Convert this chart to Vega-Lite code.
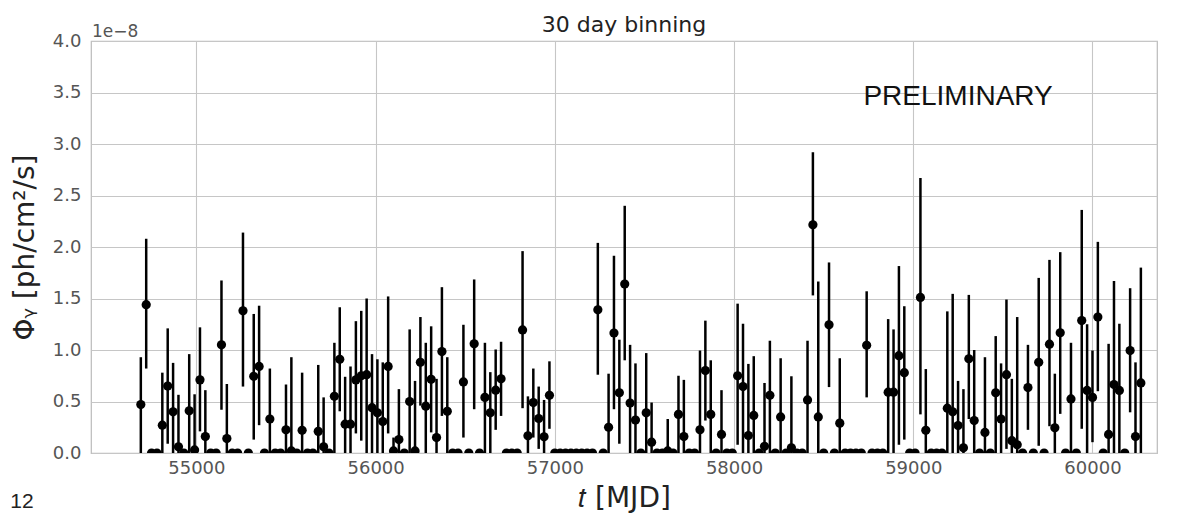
{
"$schema": "https://vega.github.io/schema/vega-lite/v6.json",
"width": 1066,
"height": 412,
"autosize": {"type": "none"},
"padding": {"left": 91, "top": 41, "right": 28, "bottom": 63},
"background": "white",
"title": {"text": "30 day binning", "fontSize": 22, "font": "DejaVu Sans", "fontWeight": "normal", "color": "#222222", "offset": -14},
"config": {
  "view": {"stroke": "#bbbbbb", "strokeWidth": 1.2},
  "axis": {"grid": true, "gridColor": "#c6c6c6", "gridWidth": 1.1, "domain": false, "ticks": false, "labelFont": "DejaVu Sans", "labelFontSize": 18, "labelColor": "#555555", "titleFont": "DejaVu Sans", "titleFontWeight": "normal", "titleFontSize": 28, "titleColor": "#222222"}
},
"data": {"values": [
{"t":54690,"f":0.47,"lo":0,"hi":0.93},
{"t":54720,"f":1.44,"lo":0.82,"hi":2.08},
{"t":54750,"f":0,"lo":0,"hi":0},
{"t":54780,"f":0,"lo":0,"hi":0},
{"t":54810,"f":0.27,"lo":0,"hi":0.78},
{"t":54840,"f":0.65,"lo":0.09,"hi":1.21},
{"t":54870,"f":0.40,"lo":0,"hi":0.875},
{"t":54900,"f":0.06,"lo":0,"hi":0.565},
{"t":54930,"f":0,"lo":0,"hi":0},
{"t":54960,"f":0.41,"lo":0,"hi":0.96},
{"t":54990,"f":0.03,"lo":0,"hi":0.57},
{"t":55020,"f":0.71,"lo":0.21,"hi":1.22},
{"t":55050,"f":0.16,"lo":0,"hi":0.61},
{"t":55080,"f":0,"lo":0,"hi":0},
{"t":55110,"f":0,"lo":0,"hi":0},
{"t":55140,"f":1.05,"lo":0.42,"hi":1.675},
{"t":55170,"f":0.14,"lo":0,"hi":0.67},
{"t":55200,"f":0,"lo":0,"hi":0},
{"t":55230,"f":0,"lo":0,"hi":0},
{"t":55260,"f":1.38,"lo":0.645,"hi":2.14},
{"t":55290,"f":0,"lo":0,"hi":0},
{"t":55320,"f":0.745,"lo":0.13,"hi":1.35},
{"t":55350,"f":0.84,"lo":0.27,"hi":1.43},
{"t":55380,"f":0,"lo":0,"hi":0},
{"t":55410,"f":0.33,"lo":0,"hi":0.82},
{"t":55440,"f":0,"lo":0,"hi":0},
{"t":55470,"f":0,"lo":0,"hi":0},
{"t":55500,"f":0.225,"lo":0,"hi":0.665},
{"t":55530,"f":0.02,"lo":0,"hi":0.93},
{"t":55560,"f":0,"lo":0,"hi":0},
{"t":55590,"f":0.22,"lo":0,"hi":0.78},
{"t":55620,"f":0,"lo":0,"hi":0},
{"t":55650,"f":0,"lo":0,"hi":0},
{"t":55680,"f":0.21,"lo":0,"hi":0.855},
{"t":55710,"f":0.06,"lo":0,"hi":0.54},
{"t":55740,"f":0,"lo":0,"hi":0},
{"t":55770,"f":0.55,"lo":0,"hi":1.07},
{"t":55800,"f":0.91,"lo":0.405,"hi":1.415},
{"t":55830,"f":0.28,"lo":0,"hi":0.74},
{"t":55860,"f":0.28,"lo":0,"hi":0.84},
{"t":55890,"f":0.71,"lo":0.19,"hi":1.28},
{"t":55920,"f":0.75,"lo":0.12,"hi":1.38},
{"t":55950,"f":0.76,"lo":0,"hi":1.50},
{"t":55980,"f":0.44,"lo":0,"hi":0.96},
{"t":56010,"f":0.39,"lo":0,"hi":0.91},
{"t":56040,"f":0.305,"lo":0,"hi":0.88},
{"t":56070,"f":0.84,"lo":0.19,"hi":1.52},
{"t":56100,"f":0.02,"lo":0,"hi":0.15},
{"t":56130,"f":0.13,"lo":0,"hi":0.62},
{"t":56160,"f":0,"lo":0,"hi":0},
{"t":56190,"f":0.50,"lo":0,"hi":1.20},
{"t":56220,"f":0.02,"lo":0,"hi":0.70},
{"t":56250,"f":0.88,"lo":0.46,"hi":1.32},
{"t":56280,"f":0.455,"lo":0,"hi":1.07},
{"t":56310,"f":0.715,"lo":0.20,"hi":1.23},
{"t":56340,"f":0.15,"lo":0,"hi":0.72},
{"t":56370,"f":0.985,"lo":0.36,"hi":1.61},
{"t":56400,"f":0.405,"lo":0,"hi":0.93},
{"t":56430,"f":0,"lo":0,"hi":0},
{"t":56460,"f":0,"lo":0,"hi":0},
{"t":56490,"f":0.69,"lo":0.15,"hi":1.245},
{"t":56520,"f":0,"lo":0,"hi":0},
{"t":56550,"f":1.06,"lo":0.425,"hi":1.685},
{"t":56580,"f":0,"lo":0,"hi":0},
{"t":56610,"f":0.54,"lo":0,"hi":1.07},
{"t":56640,"f":0.39,"lo":0,"hi":0.785},
{"t":56670,"f":0.61,"lo":0.225,"hi":1.005},
{"t":56700,"f":0.72,"lo":0.36,"hi":1.08},
{"t":56730,"f":0,"lo":0,"hi":0},
{"t":56760,"f":0,"lo":0,"hi":0},
{"t":56790,"f":0,"lo":0,"hi":0},
{"t":56820,"f":1.195,"lo":0.435,"hi":1.96},
{"t":56850,"f":0.167,"lo":0,"hi":0.55},
{"t":56880,"f":0.49,"lo":0.15,"hi":0.82},
{"t":56910,"f":0.335,"lo":0.04,"hi":0.645},
{"t":56940,"f":0.157,"lo":0,"hi":0.515},
{"t":56970,"f":0.56,"lo":0.235,"hi":0.89},
{"t":57000,"f":0,"lo":0,"hi":0},
{"t":57030,"f":0,"lo":0,"hi":0},
{"t":57060,"f":0,"lo":0,"hi":0},
{"t":57090,"f":0,"lo":0,"hi":0},
{"t":57120,"f":0,"lo":0,"hi":0},
{"t":57150,"f":0,"lo":0,"hi":0},
{"t":57180,"f":0,"lo":0,"hi":0},
{"t":57210,"f":0,"lo":0,"hi":0},
{"t":57240,"f":1.39,"lo":0.76,"hi":2.04},
{"t":57270,"f":0,"lo":0,"hi":0},
{"t":57300,"f":0.25,"lo":0,"hi":0.77},
{"t":57330,"f":1.165,"lo":0.425,"hi":1.915},
{"t":57360,"f":0.585,"lo":0.09,"hi":1.10},
{"t":57390,"f":1.64,"lo":0.90,"hi":2.40},
{"t":57420,"f":0.485,"lo":0,"hi":1.05},
{"t":57450,"f":0.32,"lo":0,"hi":0.87},
{"t":57480,"f":0,"lo":0,"hi":0},
{"t":57510,"f":0.39,"lo":0,"hi":0.97},
{"t":57540,"f":0.105,"lo":0,"hi":0.49},
{"t":57570,"f":0,"lo":0,"hi":0},
{"t":57600,"f":0,"lo":0,"hi":0},
{"t":57630,"f":0.02,"lo":0,"hi":0.33},
{"t":57660,"f":0,"lo":0,"hi":0},
{"t":57690,"f":0.375,"lo":0,"hi":0.75},
{"t":57720,"f":0.16,"lo":0,"hi":0.71},
{"t":57750,"f":0,"lo":0,"hi":0},
{"t":57780,"f":0,"lo":0,"hi":0},
{"t":57810,"f":0.225,"lo":0,"hi":0.995},
{"t":57840,"f":0.80,"lo":0.315,"hi":1.285},
{"t":57870,"f":0.375,"lo":0,"hi":0.90},
{"t":57900,"f":0,"lo":0,"hi":0},
{"t":57930,"f":0.18,"lo":0,"hi":0.61},
{"t":57960,"f":0,"lo":0,"hi":0},
{"t":57990,"f":0,"lo":0,"hi":0},
{"t":58020,"f":0.75,"lo":0.08,"hi":1.45},
{"t":58050,"f":0.645,"lo":0,"hi":1.255},
{"t":58080,"f":0.17,"lo":0,"hi":0.865},
{"t":58110,"f":0.365,"lo":0,"hi":0.94},
{"t":58140,"f":0,"lo":0,"hi":0},
{"t":58170,"f":0.065,"lo":0,"hi":0.68},
{"t":58200,"f":0.56,"lo":0,"hi":1.09},
{"t":58230,"f":0,"lo":0,"hi":0},
{"t":58260,"f":0.35,"lo":0,"hi":0.92},
{"t":58290,"f":0,"lo":0,"hi":0},
{"t":58320,"f":0.05,"lo":0,"hi":0.745},
{"t":58350,"f":0,"lo":0,"hi":0},
{"t":58380,"f":0,"lo":0,"hi":0},
{"t":58410,"f":0.515,"lo":0,"hi":1.09},
{"t":58440,"f":2.215,"lo":1.53,"hi":2.92},
{"t":58470,"f":0.35,"lo":0,"hi":1.665},
{"t":58500,"f":0,"lo":0,"hi":0},
{"t":58530,"f":1.245,"lo":0.64,"hi":1.85},
{"t":58560,"f":0,"lo":0,"hi":0},
{"t":58590,"f":0.29,"lo":0,"hi":0.92},
{"t":58620,"f":0,"lo":0,"hi":0},
{"t":58650,"f":0,"lo":0,"hi":0},
{"t":58680,"f":0,"lo":0,"hi":0},
{"t":58710,"f":0,"lo":0,"hi":0},
{"t":58740,"f":1.045,"lo":0.54,"hi":1.57},
{"t":58770,"f":0,"lo":0,"hi":0},
{"t":58800,"f":0,"lo":0,"hi":0},
{"t":58830,"f":0,"lo":0,"hi":0},
{"t":58860,"f":0.59,"lo":0,"hi":1.30},
{"t":58890,"f":0.59,"lo":0,"hi":1.20},
{"t":58920,"f":0.945,"lo":0.08,"hi":1.815},
{"t":58950,"f":0.78,"lo":0.13,"hi":1.425},
{"t":58980,"f":0,"lo":0,"hi":0},
{"t":59010,"f":0,"lo":0,"hi":0},
{"t":59040,"f":1.51,"lo":0.375,"hi":2.67},
{"t":59070,"f":0.22,"lo":0,"hi":0.815},
{"t":59100,"f":0,"lo":0,"hi":0},
{"t":59130,"f":0,"lo":0,"hi":0},
{"t":59160,"f":0,"lo":0,"hi":0},
{"t":59190,"f":0.435,"lo":0,"hi":1.375},
{"t":59220,"f":0.40,"lo":0,"hi":1.545},
{"t":59250,"f":0.267,"lo":0,"hi":0.70},
{"t":59280,"f":0.05,"lo":0,"hi":0.62},
{"t":59310,"f":0.915,"lo":0.33,"hi":1.535},
{"t":59340,"f":0.315,"lo":0,"hi":1.00},
{"t":59370,"f":0,"lo":0,"hi":0},
{"t":59400,"f":0.20,"lo":0,"hi":0.93},
{"t":59430,"f":0,"lo":0,"hi":0},
{"t":59460,"f":0.585,"lo":0,"hi":1.135},
{"t":59490,"f":0.33,"lo":0,"hi":0.87},
{"t":59520,"f":0.76,"lo":0.04,"hi":1.49},
{"t":59550,"f":0.12,"lo":0,"hi":0.72},
{"t":59580,"f":0.08,"lo":0,"hi":1.32},
{"t":59610,"f":0,"lo":0,"hi":0},
{"t":59640,"f":0.635,"lo":0.225,"hi":1.05},
{"t":59670,"f":0,"lo":0,"hi":0},
{"t":59700,"f":0.88,"lo":0.07,"hi":1.70},
{"t":59730,"f":0,"lo":0,"hi":0},
{"t":59760,"f":1.056,"lo":0.26,"hi":1.875},
{"t":59790,"f":0.245,"lo":0,"hi":0.77},
{"t":59820,"f":1.167,"lo":0.38,"hi":1.95},
{"t":59850,"f":0,"lo":0,"hi":0},
{"t":59880,"f":0.525,"lo":0,"hi":1.07},
{"t":59910,"f":0,"lo":0,"hi":0},
{"t":59940,"f":1.286,"lo":0.235,"hi":2.36},
{"t":59970,"f":0.607,"lo":0,"hi":1.25},
{"t":60000,"f":0.54,"lo":0.105,"hi":0.995},
{"t":60030,"f":1.32,"lo":0.60,"hi":2.05},
{"t":60060,"f":0,"lo":0,"hi":0},
{"t":60090,"f":0.18,"lo":0,"hi":1.06},
{"t":60120,"f":0.665,"lo":0,"hi":1.67},
{"t":60150,"f":0.607,"lo":0,"hi":1.255},
{"t":60180,"f":0,"lo":0,"hi":0},
{"t":60210,"f":0.995,"lo":0.395,"hi":1.60},
{"t":60240,"f":0.16,"lo":0,"hi":0.88},
{"t":60270,"f":0.68,"lo":0,"hi":1.80}
]},
"layer": [
  {
    "mark": {"type": "rule", "color": "black", "strokeWidth": 2.5, "clip": true},
    "encoding": {
      "x": {"field": "t", "type": "quantitative", "scale": {"domain": [54412, 60360], "nice": false, "zero": false},
            "axis": {"values": [55000, 56000, 57000, 58000, 59000, 60000], "format": "d", "labelPadding": 6, "title": "𝑡 [MJD]", "titleY": 45, "titleBaseline": "middle"}},
      "y": {"field": "lo", "type": "quantitative", "scale": {"domain": [0, 4], "nice": false},
            "axis": {"values": [0, 0.5, 1, 1.5, 2, 2.5, 3, 3.5, 4], "format": ".1f", "labelPadding": 10, "title": "Φᵧ [ph/cm²/s]", "titleX": -66, "titleY": 206, "titleAngle": -90, "titleBaseline": "middle", "titleAlign": "center"}},
      "y2": {"field": "hi"}
    }
  },
  {
    "mark": {"type": "point", "filled": true, "color": "black", "opacity": 1, "size": 85, "clip": true, "strokeWidth": 0},
    "encoding": {
      "x": {"field": "t", "type": "quantitative"},
      "y": {"field": "f", "type": "quantitative"}
    }
  },
  {
    "data": {"values": [{"t": 59250, "f": 3.46, "label": "PRELIMINARY"}]},
    "mark": {"type": "text", "font": "Liberation Sans", "fontSize": 28, "color": "#111111", "align": "center", "baseline": "middle"},
    "encoding": {
      "x": {"field": "t", "type": "quantitative"},
      "y": {"field": "f", "type": "quantitative"},
      "text": {"field": "label"}
    }
  },
  {
    "data": {"values": [{"t": 54412, "f": 4.0, "label": "1e−8"}]},
    "mark": {"type": "text", "font": "DejaVu Sans", "fontSize": 17, "color": "#555555", "align": "left", "baseline": "alphabetic", "dx": 1, "dy": -4, "clip": false},
    "encoding": {
      "x": {"field": "t", "type": "quantitative"},
      "y": {"field": "f", "type": "quantitative"},
      "text": {"field": "label"}
    }
  },
  {
    "data": {"values": [{"t": 54027, "f": -0.48, "label": "12"}]},
    "mark": {"type": "text", "font": "Liberation Sans", "fontSize": 21, "color": "#222222", "align": "center", "baseline": "middle", "clip": false},
    "encoding": {
      "x": {"field": "t", "type": "quantitative"},
      "y": {"field": "f", "type": "quantitative"},
      "text": {"field": "label"}
    }
  }
]
}
